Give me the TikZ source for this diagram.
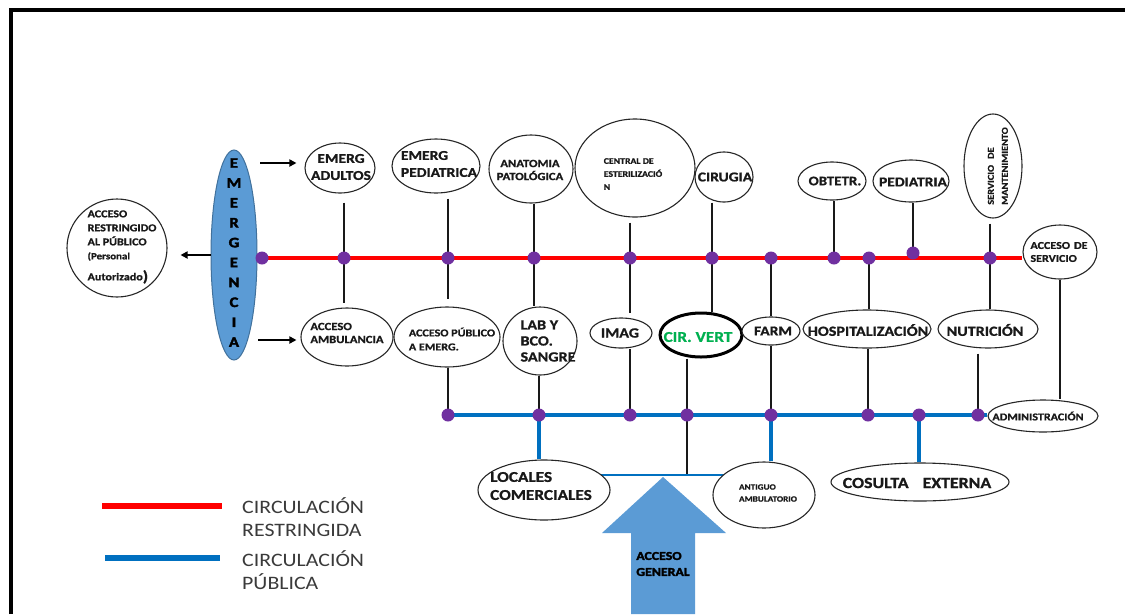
\documentclass[tikz,border=0pt]{standalone}
\usepackage{fontspec}
\IfFontExistsTF{Carlito Bold}
  {\setmainfont{Carlito}[FakeStretch=1.15, BoldFont={Carlito Bold}, BoldFeatures={FakeBold=1}]}
  {\setmainfont{Carlito}[FakeStretch=1.15, BoldFont=Carlito, BoldFeatures={FakeBold=3.2}]}
\newfontfamily\heavyfont{Carlito Bold}[FakeBold=2.5, FakeStretch=1.15]
\usetikzlibrary{shapes.geometric,arrows.meta,backgrounds}
\definecolor{cred}{HTML}{FF0000}
\definecolor{cblue}{HTML}{0070C0}
\definecolor{emerblue}{HTML}{5B9BD5}
\definecolor{emeredge}{HTML}{41719C}
\definecolor{dotpurple}{HTML}{7030A0}
\definecolor{cgreen}{HTML}{00B050}
\definecolor{legendgray}{HTML}{3A3A3A}
\newcommand{\fsz}[2]{\fontsize{#1}{#2}\selectfont}
\tikzset{
  area/.style={ellipse, draw=black!85, line width=1.1pt, fill=white, inner sep=0pt},
  txt/.style={inner sep=0pt, align=center, text=black!90},
  dot/.style={circle, fill=dotpurple, inner sep=0pt, minimum size=13pt},
  link/.style={line width=2.6pt, black!90},
  restricted/.style={line width=4.5pt, cred},
  public/.style={line width=4.5pt, cblue},
  goarrow/.style={line width=2pt, -{Triangle[length=7pt,width=7pt]}},
}
\begin{document}
\begin{tikzpicture}[x=1pt,y=-1pt]
  \useasboundingbox (0,0) rectangle (1125,614);
  \draw[line width=4pt] (11,614) -- (11,10) -- (1125,10);

  \node[ellipse, fill=emerblue, draw=emeredge, line width=1pt,
        minimum width=46pt, minimum height=210pt, inner sep=0pt] (emerg) at (234,255) {};
  \foreach \l [count=\i] in {E,M,E,R,G,E,N,C,I,A}
    \node[txt, font=\fsz{14.5}{14.5}\heavyfont, text=black] (em\i) at (234,163+19.9*\i-19.9) {\l};

  \node[area, minimum width=100pt, minimum height=98pt] (restr) at (117,248) {};
  \node[area, minimum width=70pt, minimum height=50pt] (adultos) at (340,168) {};
  \node[area, minimum width=92pt, minimum height=58pt] (ambul) at (347,337) {};
  \node[area, minimum width=88pt, minimum height=54pt] (emped) at (436,166) {};
  \node[area, minimum width=106pt, minimum height=60pt] (accpub) at (447,337) {};
  \node[area, minimum width=84pt, minimum height=68pt] (anatomia) at (531,169) {};
  \node[area, minimum width=74pt, minimum height=68pt] (lab) at (540,341) {};
  \node[area, minimum width=120pt, minimum height=98pt] (central) at (635,168) {};
  \node[area, minimum width=62pt, minimum height=30pt] (imag) at (621,333) {};
  \node[area, minimum width=58pt, minimum height=50pt] (cirugia) at (724,177) {};
  \node[area, minimum width=82pt, minimum height=44pt, line width=3pt, draw=black] (cirvert) at (701,335) {};
  \node[area, minimum width=58pt, minimum height=28pt] (farm) at (771,331) {};
  \node[area, minimum width=68pt, minimum height=38pt] (obtetr) at (832,181) {};
  \node[area, minimum width=76pt, minimum height=42pt] (pediatria) at (911,181) {};
  \node[area, minimum width=58pt, minimum height=104pt] (mant) at (993,166) {};
  \node[area, minimum width=74pt, minimum height=54pt] (accserv) at (1060,252) {};
  \node[area, minimum width=128pt, minimum height=38pt] (hosp) at (867,329) {};
  \node[area, minimum width=100pt, minimum height=38pt] (nutri) at (988,329) {};
  \node[area, minimum width=110pt, minimum height=32pt] (admin) at (1043,416) {};
  \node[area, minimum width=132pt, minimum height=60pt] (locales) at (544,490) {};
  \node[area, minimum width=102pt, minimum height=66pt] (antiguo) at (764,495) {};
  \node[area, minimum width=178pt, minimum height=38pt] (consulta) at (920,482) {};

  \node[txt, align=left, font=\fsz{10.5}{14}\bfseries] (restr-t) at (122,247)
    {ACCESO\\RESTRINGIDO\\AL PÚBLICO\\\fsz{9.5}{14}(Personal\\[7pt]Autorizado\raisebox{-1pt}{\fsz{15}{15})}};
  \node[txt, font=\fsz{13.5}{17}\bfseries] (adultos-t) at (341,167) {EMERG\\ADULTOS};
  \node[txt, align=left, font=\fsz{11}{13}\bfseries] (ambul-t) at (347,333) {ACCESO\\AMBULANCIA};
  \node[txt, align=left, font=\fsz{13.5}{17}\bfseries] (emped-t) at (439,164) {EMERG\\PEDIATRICA};
  \node[txt, align=left, font=\fsz{10.5}{14}\bfseries] (accpub-t) at (452,339) {ACCESO PÚBLICO\\A EMERG.};
  \node[txt, font=\fsz{11}{13}\bfseries] (anatomia-t) at (530,170) {ANATOMIA\\PATOLÓGICA};
  \node[txt, align=left, font=\fsz{14}{16}\bfseries] (lab-t) at (548,341) {LAB Y\\BCO.\\SANGRE};
  \node[txt, align=left, font=\fsz{8.5}{13}\bfseries] (central-t) at (633,174) {CENTRAL DE\\ESTERILIZACIÓ\\N};
  \node[txt, font=\fsz{14}{16}\bfseries] (imag-t) at (620,333) {IMAG};
  \node[txt, font=\fsz{13.5}{16}\bfseries] (cirugia-t) at (725,177) {CIRUGIA};
  \node[txt, font=\fsz{15}{16}\bfseries, text=cgreen] (cirvert-t) at (698,337) {CIR. VERT};
  \node[txt, font=\fsz{13.5}{16}\bfseries] (farm-t) at (773,331) {FARM};
  \node[txt, font=\fsz{13}{16}\bfseries] (obtetr-t) at (835,181) {OBTETR.};
  \node[txt, font=\fsz{13.5}{16}\bfseries] (pediatria-t) at (913,182) {PEDIATRIA};
  \node[txt, font=\fsz{9}{14}\bfseries] (mant-t) at (998,166)
    {\rotatebox{90}{\begin{tabular}{@{}l@{}}SERVICIO\hspace{6pt}DE\\MANTENIMIENTO\end{tabular}}};
  \node[txt, align=left, font=\fsz{10.5}{13}\bfseries] (accserv-t) at (1059,252) {ACCESO\hspace{4pt}DE\\SERVICIO};
  \node[txt, font=\fsz{14}{16}\bfseries] (hosp-t) at (868,330) {HOSPITALIZACIÓN};
  \node[txt, font=\fsz{14}{16}\bfseries] (nutri-t) at (985,330) {NUTRICIÓN};
  \node[txt, font=\fsz{10.5}{13}\bfseries] (admin-t) at (1038,416) {ADMINISTRACIÓN};
  \node[txt, align=left, font=\fsz{15}{18}\bfseries] (locales-t) at (541,486) {LOCALES\\COMERCIALES};
  \node[txt, align=left, font=\fsz{8}{12}\bfseries] (antiguo-t) at (768,493) {ANTIGUO\\AMBULATORIO};
  \node[txt, font=\fsz{15.5}{16}\bfseries] (consulta-t) at (917,483) {COSULTA\hspace{14pt}EXTERNA};

  \foreach \x/\y [count=\i] in {262/258,344/258,448/258,534/258,630/258,712/258,
                                771/258,834/258,869/258,913/253,990/258}
    \node[dot] (r\i) at (\x,\y) {};
  \foreach \x [count=\i] in {448,539,630,687,771,868,919,978}
    \node[dot] (b\i) at (\x,415) {};
  \coordinate (tjoin) at (687,475);

  \begin{pgfonlayer}{background}
    \draw[restricted] (r1.center) -- (r1 -| accserv.west);
    \draw[public] (b1.center) -- (b1 -| admin.west);
    \draw[link, shorten <=9pt, shorten >=4pt] (r2 |- adultos.south) -- (r2 |- ambul.north);
    \draw[link, shorten <=5pt, shorten >=7pt] (r3 |- emped.south) -- (r3 |- accpub.north);
    \draw[link] (b1 |- accpub.south) -- (b1.center);
    \draw[link] (r4 |- anatomia.south) -- (r4 |- lab.north);
    \draw[link] (b2 |- lab.south) -- (b2.center);
    \draw[link, shorten <=5pt, shorten >=4pt] (r5 |- central.south) -- (r5 |- imag.north);
    \draw[link] (b3 |- imag.south) -- (b3.center);
    \draw[link] (r6 |- cirugia.south) -- (r6 |- cirvert.north);
    \draw[link] (b4 |- cirvert.south) -- (tjoin);
    \draw[link] (r7.center) -- (r7 |- farm.north);
    \draw[link] (b5 |- farm.south) -- (b5.center);
    \draw[link] (r8 |- obtetr.south) -- (r8.center);
    \draw[link] (r9.center) -- (r9 |- hosp.north);
    \draw[link] (b6 |- hosp.south) -- (b6.center);
    \draw[link] (r10 |- pediatria.south) -- (r10.center);
    \draw[link, shorten <=5pt] (r11 |- mant.south) -- (r11 |- nutri.north);
    \draw[link, shorten <=5pt] (b8 |- nutri.south) -- (b8.center);
    \draw[link] (accserv.south) -- (accserv.south |- admin.north);
    \draw[public, line width=3.2pt] (b2.center) -- (b2 |- locales.north);
    \draw[public, line width=3.2pt] (b5.center) -- (b5 |- antiguo.north);
    \draw[public, line width=3.2pt] (b7.center) -- (b7 |- consulta.north);
    \draw[public, line width=2.4pt] (tjoin -| locales.center) -- (tjoin -| antiguo.center);
  \end{pgfonlayer}

  \coordinate (ea) at (260,163);
  \coordinate (eb) at (258,340);
  \draw[goarrow, shorten >=8pt] (ea) -- (ea -| adultos.west);
  \draw[goarrow, shorten >=4pt] (eb) -- (eb -| ambul.west);
  \draw[goarrow, shorten >=13pt] (emerg.west) -- (emerg.west -| restr.east);

  \fill[emerblue] (631,614) -- (631,533) -- (602,533) -- (663,477) -- (726,533)
    -- (695,533) -- (695,614) -- cycle;
  \node[txt, align=left, font=\fsz{12}{16}\heavyfont, text=black] (general) at (663,564) {ACCESO\\GENERAL};

  \draw[line width=6pt, cred] (102,506) -- (222,506);
  \draw[line width=6pt, cblue] (105,558) -- (220,558);
  \node[txt, anchor=west, align=left, font=\fsz{19}{23.5}, text=legendgray] (leg-r) at (242,517) {CIRCULACIÓN\\RESTRINGIDA};
  \node[txt, anchor=west, align=left, font=\fsz{19}{23.5}, text=legendgray] (leg-b) at (242,570) {CIRCULACIÓN\\PÚBLICA};
\end{tikzpicture}
\end{document}
